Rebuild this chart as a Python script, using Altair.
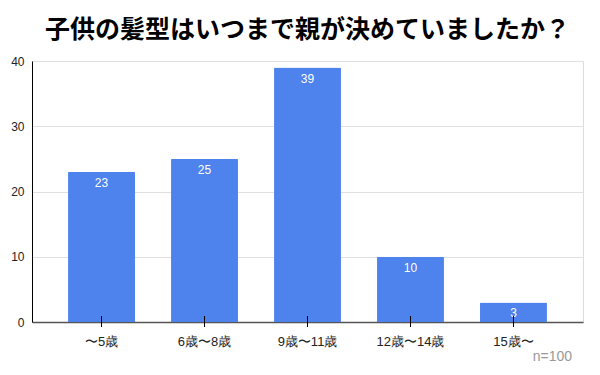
import altair as alt
import pandas as pd

categories = ["〜5歳", "6歳〜8歳", "9歳〜11歳", "12歳〜14歳", "15歳〜"]
values = [23, 25, 39, 10, 3]
title_text = "子供の髪型はいつまで親が決めていましたか？"
note_text = "n=100"

df = pd.DataFrame({"cat": categories, "val": values})

W, H = 551, 261
xenc = alt.X("cat:N", sort=categories, title=None,
             scale=alt.Scale(paddingInner=0.35, paddingOuter=0.35),
             axis=alt.Axis(labelAngle=0, ticks=False, labelPadding=13, labelFontSize=13,
                           labelFont="Liberation Sans", labelColor="#222",
                           domainColor="#555", domainWidth=1.5))
yenc = alt.Y("val:Q", title=None,
             scale=alt.Scale(domain=[0, 40]),
             axis=alt.Axis(values=[0, 10, 20, 30, 40], ticks=False, labelPadding=8,
                           labelFontSize=12, labelFont="Liberation Sans", labelColor="#222",
                           domainColor="#000", gridColor="#e0e0e0"))

base = alt.Chart(df)
bars = base.mark_bar(color="#4e82ec", cornerRadiusTopLeft=1, cornerRadiusTopRight=1).encode(x=xenc, y=yenc)
labels = base.mark_text(baseline="top", dy=6, color="white", fontSize=12, font="Liberation Sans").encode(
    x=alt.X("cat:N", sort=categories), y="val:Q", text="val:Q")
ticks = base.mark_rule(color="#000", strokeWidth=1).encode(
    x=alt.X("cat:N", sort=categories), y=alt.value(H - 6), y2=alt.value(H + 5))
note = alt.Chart(pd.DataFrame({"t": [note_text]})).mark_text(
    align="right", baseline="middle", fontSize=14, color="#999", font="Liberation Sans").encode(
    x=alt.value(W - 11), y=alt.value(H + 35), text="t:N")

chart = alt.layer(bars, labels, ticks, note).properties(
    width=W, height=H,
    title=alt.TitleParams(title_text, font="Noto Sans CJK JP", fontSize=25, fontWeight="bold",
                          color="#000", anchor="middle", offset=12),
    padding={"left": 24, "top": 53, "right": 9, "bottom": 45},
    autosize=alt.AutoSizeParams(type="none"),
).configure_view(stroke=None).configure(background="white")

chart.save("out.html", embed_options={"renderer": "svg", "actions": False})
